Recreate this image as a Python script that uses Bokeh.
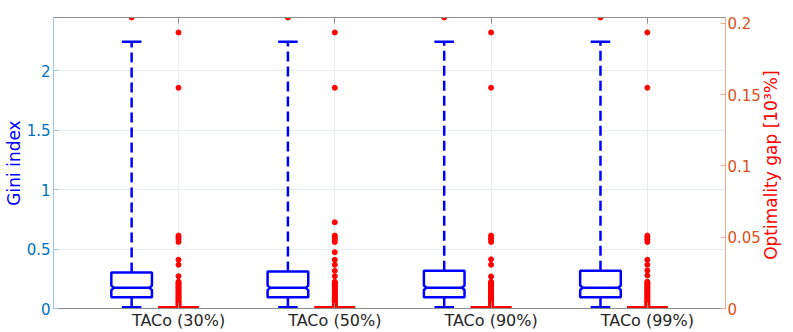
import math
from bokeh.plotting import figure
from bokeh.models import Range1d, LinearAxis, FixedTicker, ColumnDataSource, CustomJSTickFormatter
from bokeh.embed import file_html
from bokeh.resources import INLINE

# ---------------- data ----------------
categories = ["TACo (30%)", "TACo (50%)", "TACo (90%)", "TACo (99%)"]
cat_pos = [1, 2, 3, 4]
gini_pos = [0.7, 1.7, 2.7, 3.7]

gini_q1 = [0.095, 0.095, 0.095, 0.095]
gini_median = [0.174, 0.174, 0.175, 0.175]
gini_q3 = [0.303, 0.311, 0.317, 0.317]
gini_notch_lo = [0.155, 0.155, 0.156, 0.156]
gini_notch_hi = [0.193, 0.193, 0.194, 0.194]
gini_whisker_lo = [0.011, 0.011, 0.011, 0.011]
gini_whisker_hi = [2.246, 2.246, 2.246, 2.246]
gini_outliers = [[2.45], [2.45], [2.45], [2.45]]

gap_q1 = [0.0, 0.0, 0.0, 0.0]
gap_median = [0.0, 0.0, 0.0, 0.0]
gap_q3 = [0.0, 0.0, 0.0, 0.0]
gap_dense = [0.0188, 0.0181, 0.0174, 0.0167, 0.0160, 0.0152, 0.0145, 0.0138,
             0.0130, 0.0122, 0.0115, 0.0108, 0.0100, 0.0092, 0.0085, 0.0078,
             0.0070, 0.0062, 0.0055, 0.0048, 0.0040, 0.0032, 0.0025, 0.0018,
             0.0010, 0.0004]
gap_outliers_30 = [0.1937, 0.1549, 0.0512, 0.0498, 0.0484, 0.0467, 0.0342, 0.0307, 0.0227]
gap_outliers_50 = [0.1937, 0.1549, 0.0605, 0.0512, 0.0498, 0.0484, 0.0467, 0.0395, 0.0342,
                   0.0307, 0.0265, 0.0227]
gap_outliers_90 = [0.1937, 0.1549, 0.0512, 0.0498, 0.0484, 0.0467, 0.0345, 0.0307, 0.0225]
gap_outliers_99 = [0.1937, 0.1549, 0.0512, 0.0498, 0.0484, 0.0467, 0.0342, 0.0307, 0.0267,
                   0.0232]
gap_outliers = [gap_outliers_30, gap_outliers_50, gap_outliers_90, gap_outliers_99]

left_ticks = [0, 0.5, 1, 1.5, 2]
right_ticks = [0, 0.05, 0.1, 0.15, 0.2]
left_label = "Gini index"
right_label = "Optimality gap [10³%]"

# ---------------- style ----------------
FONT = "DejaVu Sans"
BLUE = "#0000FF"
RED = "#FF0000"
GRAY = "#8c8c8c"
box_w = 0.26
cap_w = 0.125
indent = 0.016
X0, X1 = 0.2, 4.5
Y1_LEFT, Y1_RIGHT = 2.45, 0.2042

p = figure(width=793, height=332, x_range=Range1d(X0, X1), y_range=Range1d(0, Y1_LEFT),
           output_backend="svg", toolbar_location=None,
           min_border_left=48, min_border_right=62, min_border_top=17, min_border_bottom=24)
p.extra_y_ranges = {"gap": Range1d(0, Y1_RIGHT)}
p.outline_line_color = None
p.background_fill_color = "white"
p.border_fill_color = "white"

# grids
p.xgrid.ticker = FixedTicker(ticks=cat_pos)
p.xgrid.grid_line_color = "#ebebeb"
p.ygrid.ticker = FixedTicker(ticks=left_ticks)
p.ygrid.grid_line_color = "#e3eef7"

# bottom axis
xa = p.xaxis[0]
xa.ticker = FixedTicker(ticks=cat_pos)
xa.formatter = CustomJSTickFormatter(args=dict(labels=categories),
                                     code="return labels[Math.round(tick) - 1];")
xa.major_label_text_font = FONT
xa.major_label_text_font_size = "16px"
xa.major_label_text_color = "#262626"
xa.major_label_standoff = 2
xa.axis_label_standoff = 0
xa.axis_line_color = GRAY
xa.major_tick_line_color = GRAY
xa.major_tick_in = 6
xa.major_tick_out = 0
xa.minor_tick_line_color = None

# top axis: border line + inward ticks only
ta = LinearAxis(ticker=FixedTicker(ticks=cat_pos),
                formatter=CustomJSTickFormatter(code="return '';"))
ta.axis_line_color = GRAY
ta.major_tick_line_color = GRAY
ta.major_tick_in = 6
ta.major_tick_out = 0
ta.minor_tick_line_color = None
ta.major_label_text_font_size = "0px"
ta.major_label_standoff = 0
ta.axis_label_standoff = 0
p.add_layout(ta, "above")

# left axis
ya = p.yaxis[0]
ya.ticker = FixedTicker(ticks=left_ticks)
ya.formatter = CustomJSTickFormatter(code="return tick.toString();")
ya.major_label_text_font = FONT
ya.major_label_text_font_size = "15px"
ya.major_label_text_color = "#0072BD"
ya.major_label_standoff = 3
ya.axis_line_color = "#9cc6e6"
ya.major_tick_line_color = "#9cc6e6"
ya.major_tick_in = 5
ya.major_tick_out = 0
ya.minor_tick_line_color = None
ya.axis_label = left_label
ya.axis_label_text_font = FONT
ya.axis_label_text_font_size = "17px"
ya.axis_label_text_font_style = "normal"
ya.axis_label_text_color = BLUE
ya.axis_label_standoff = 0

# right axis (title reads bottom-to-top, like the left one)
ra = LinearAxis(y_range_name="gap", ticker=FixedTicker(ticks=right_ticks),
                formatter=CustomJSTickFormatter(code="return tick.toString();"))
ra.major_label_text_font = FONT
ra.major_label_text_font_size = "15px"
ra.major_label_text_color = "#D95319"
ra.major_label_standoff = 2
ra.axis_line_color = "#eeab90"
ra.major_tick_line_color = "#eeab90"
ra.major_tick_in = 5
ra.major_tick_out = 0
ra.minor_tick_line_color = None
ra.axis_label = right_label
ra.axis_label_text_font = FONT
ra.axis_label_text_font_size = "17px"
ra.axis_label_text_font_style = "normal"
ra.axis_label_text_color = RED
ra.axis_label_standoff = 7
props = ra.properties()
if "axis_label_orientation" in props and "axis_label_align" in props:
    ra.axis_label_orientation = math.pi / 2
    ra.axis_label_align = "start"
    ra.axis_label = "\u00a0" * 9 + right_label
p.add_layout(ra, "right")

# ---------------- Gini boxes (left axis) ----------------
xs, ys = [], []
for x, q1, q3, nlo, nhi, med in zip(gini_pos, gini_q1, gini_q3, gini_notch_lo, gini_notch_hi, gini_median):
    l, r = x - box_w / 2, x + box_w / 2
    xs.append([l, l, l + indent, l, l, r, r, r - indent, r, r])
    ys.append([q1, nlo, med, nhi, q3, q3, nhi, med, nlo, q1])
p.patches(xs=xs, ys=ys, fill_color=None, line_color=BLUE, line_width=2.5)

gsrc = ColumnDataSource(dict(
    x=gini_pos, q1=gini_q1, q3=gini_q3, med=gini_median, lo=gini_whisker_lo, hi=gini_whisker_hi,
    ml=[x - box_w / 2 + indent for x in gini_pos], mr=[x + box_w / 2 - indent for x in gini_pos],
    cl=[x - cap_w / 2 for x in gini_pos], cr=[x + cap_w / 2 for x in gini_pos],
))
p.segment(x0="ml", y0="med", x1="mr", y1="med", source=gsrc, line_color=BLUE, line_width=2.5)
p.segment(x0="x", y0="q3", x1="x", y1="hi", source=gsrc, line_color=BLUE, line_width=2.5,
          line_dash="10 5")
p.segment(x0="x", y0="lo", x1="x", y1="q1", source=gsrc, line_color=BLUE, line_width=2.5,
          line_dash="10 5")
p.segment(x0="cl", y0="hi", x1="cr", y1="hi", source=gsrc, line_color=BLUE, line_width=2.5)
p.segment(x0="cl", y0="lo", x1="cr", y1="lo", source=gsrc, line_color=BLUE, line_width=2.5)

ox, oy = [], []
for x, outs in zip(gini_pos, gini_outliers):
    for v in outs:
        ox.append(x)
        oy.append(v)
p.scatter(x=ox, y=oy, size=5, marker="circle", fill_color=RED, line_color=RED)

# ---------------- Optimality gap boxes (right axis) ----------------
# box, median and whiskers all collapse onto zero; drawn wide because the frame clips half
rsrc = ColumnDataSource(dict(
    x=cat_pos, q1=gap_q1, q3=gap_q3, med=gap_median,
    l=[x - box_w / 2 for x in cat_pos], r=[x + box_w / 2 for x in cat_pos],
))
p.segment(x0="l", y0="q1", x1="r", y1="q1", source=rsrc, line_color=RED, line_width=5,
          y_range_name="gap")
p.segment(x0="l", y0="q3", x1="r", y1="q3", source=rsrc, line_color=RED, line_width=5,
          y_range_name="gap")

rx, ry = [], []
for x, outs in zip(cat_pos, gap_outliers):
    for v in outs + gap_dense:
        rx.append(x)
        ry.append(v)
p.scatter(x=rx, y=ry, size=5, marker="circle", fill_color=RED, line_color=RED,
          y_range_name="gap")

open("out.html", "w").write(file_html(p, INLINE))
